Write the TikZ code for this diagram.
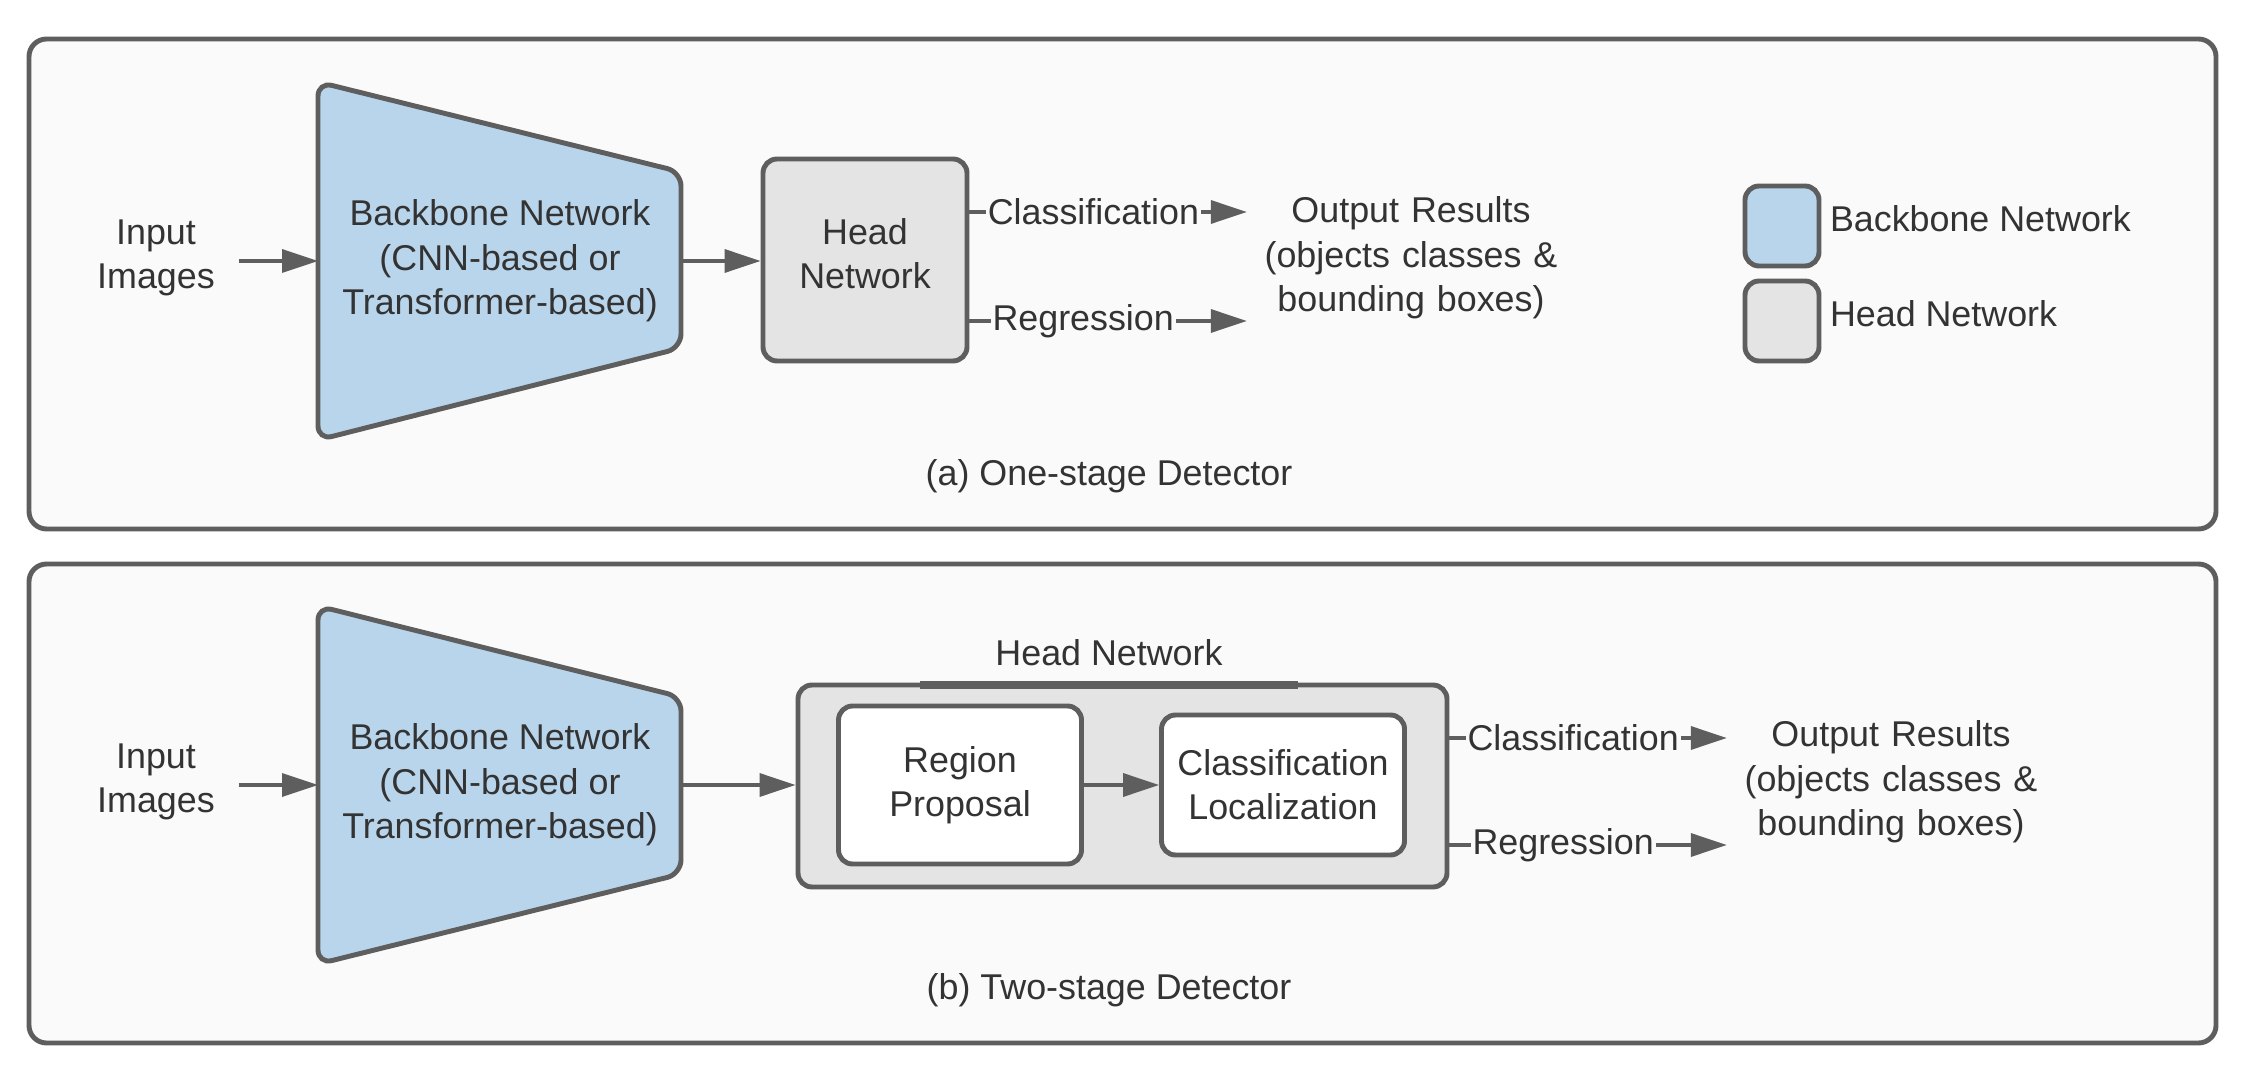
\documentclass[tikz,border=0pt]{standalone}
\usepackage{fontspec}
\setmainfont{Liberation Sans}
\usetikzlibrary{arrows.meta}
\definecolor{edgegray}{HTML}{5E5E5E}
\definecolor{textgray}{HTML}{333333}
\definecolor{backblue}{HTML}{B9D5EC}
\definecolor{headgray}{HTML}{E4E4E4}
\definecolor{panelgray}{HTML}{FAFAFA}
\begin{document}
\begin{tikzpicture}[every node/.style={rectangle, text=textgray, font=\fontsize{10.2}{12.6}\selectfont}, align=center, line width=1.4pt, draw=edgegray,
	panel/.style={draw=edgegray, fill=panelgray, rounded corners=5pt},
	box/.style={draw=edgegray, rounded corners=4pt},
	flow/.style={-{Triangle[length=3.6mm, width=2.3mm]}, draw=edgegray, fill=edgegray, line width=1pt},
	output/.style={text width=3.2cm, inner sep=.5pt},
	flowlabel/.style={fill=panelgray, inner sep=.5pt}]
	\useasboundingbox (0,0) rectangle (22.46,10.82);
	\fill[white] (0,0) rectangle (22.46,10.82);
	\node[panel, minimum width=21.87cm, minimum height=4.90cm] (panelA) at (11.225, 7.98) {};
	\node[panel, minimum width=21.87cm, minimum height=4.79cm] (panelB) at (11.225, 2.785) {};
	\draw[draw=edgegray, fill=backblue, rounded corners=4pt] (3.18,10.00) -- (6.81,9.10) -- (6.81,7.34) -- (3.18,6.42) -- cycle;
	\draw[draw=edgegray, fill=backblue, rounded corners=4pt] (3.18,4.76) -- (6.81,3.85) -- (6.81,2.08) -- (3.18,1.18) -- cycle;
	\coordinate (bbAin) at (3.18, 8.21);
	\coordinate (bbAout) at (6.81, 8.21);
	\coordinate (bbBin) at (3.18, 2.97);
	\coordinate (bbBout) at (6.81, 2.97);
	\node[] (inputA) at (1.56, 8.24) {Input\\Images};
	\node[] (backboneA) at (5.0, 8.21) {Backbone Network\\(CNN-based or\\Transformer-based)};
	\node[box, fill=headgray, minimum width=2.04cm, minimum height=2.02cm] (headA) at (8.65, 8.22) {};
	\node[] (headAText) at (8.65, 8.28) {Head\\Network};
	\node[output] (outputA) at (14.11, 8.24) {Output Results\\(objects classes \&\\bounding boxes)};
	\draw[flow, shorten <=1mm] (inputA.east |- bbAin) -- (bbAin);
	\draw[flow] (bbAout) -- (headA.west |- bbAout);
	\draw[flow] (headA.east |- 0,8.70) -- (outputA.west |- 0,8.70) node[flowlabel, pos=.447] (clsA) {Classification};
	\draw[flow] (headA.east |- 0,7.61) -- (outputA.west |- 0,7.61) node[flowlabel, pos=.41] (regA) {Regression};
	\node[box, fill=backblue, minimum width=.74cm, minimum height=.80cm] (legendBack) at (17.82, 8.56) {};
	\node[box, fill=headgray, minimum width=.74cm, minimum height=.80cm] (legendHead) at (17.82, 7.61) {};
	\node[anchor=west, inner sep=1pt] (legendBackText) at (18.24, 8.63) {Backbone Network};
	\node[anchor=west, inner sep=1pt] (legendHeadText) at (18.24, 7.68) {Head Network};
	\node[] (captionA) at (11.09, 6.06) {(a) One-stage Detector};
	\node[] (inputB) at (1.56, 3.00) {Input\\Images};
	\node[] (backboneB) at (5.0, 2.97) {Backbone Network\\(CNN-based or\\Transformer-based)};
	\node[box, fill=headgray, minimum width=6.49cm, minimum height=2.02cm] (headB) at (11.225, 2.96) {};
	\node[] (headBText) at (11.09, 4.29) {Head Network};
	\draw[line width=2pt] (9.20,3.97) -- (12.98,3.97);
	\node[box, fill=white, minimum width=2.43cm, minimum height=1.58cm] (regionProp) at (9.60, 2.97) {Region\\Proposal};
	\node[box, fill=white, minimum width=2.43cm, minimum height=1.40cm] (clsLoc) at (12.83, 2.97) {Classification\\Localization};
	\node[output] (outputB) at (18.91, 3.00) {Output Results\\(objects classes \&\\bounding boxes)};
	\draw[flow, shorten <=1mm] (inputB.east |- bbBin) -- (bbBin);
	\draw[flow] (bbBout) -- (headB.west |- bbBout);
	\draw[flow] (regionProp.east |- bbBout) -- (clsLoc.west |- bbBout);
	\draw[flow] (headB.east |- 0,3.44) -- (outputB.west |- 0,3.44) node[flowlabel, pos=.446] (clsB) {Classification};
	\draw[flow] (headB.east |- 0,2.37) -- (outputB.west |- 0,2.37) node[flowlabel, pos=.41] (regB) {Regression};
	\node[] (captionB) at (11.09, 0.92) {(b) Two-stage Detector};
\end{tikzpicture}
\end{document}
